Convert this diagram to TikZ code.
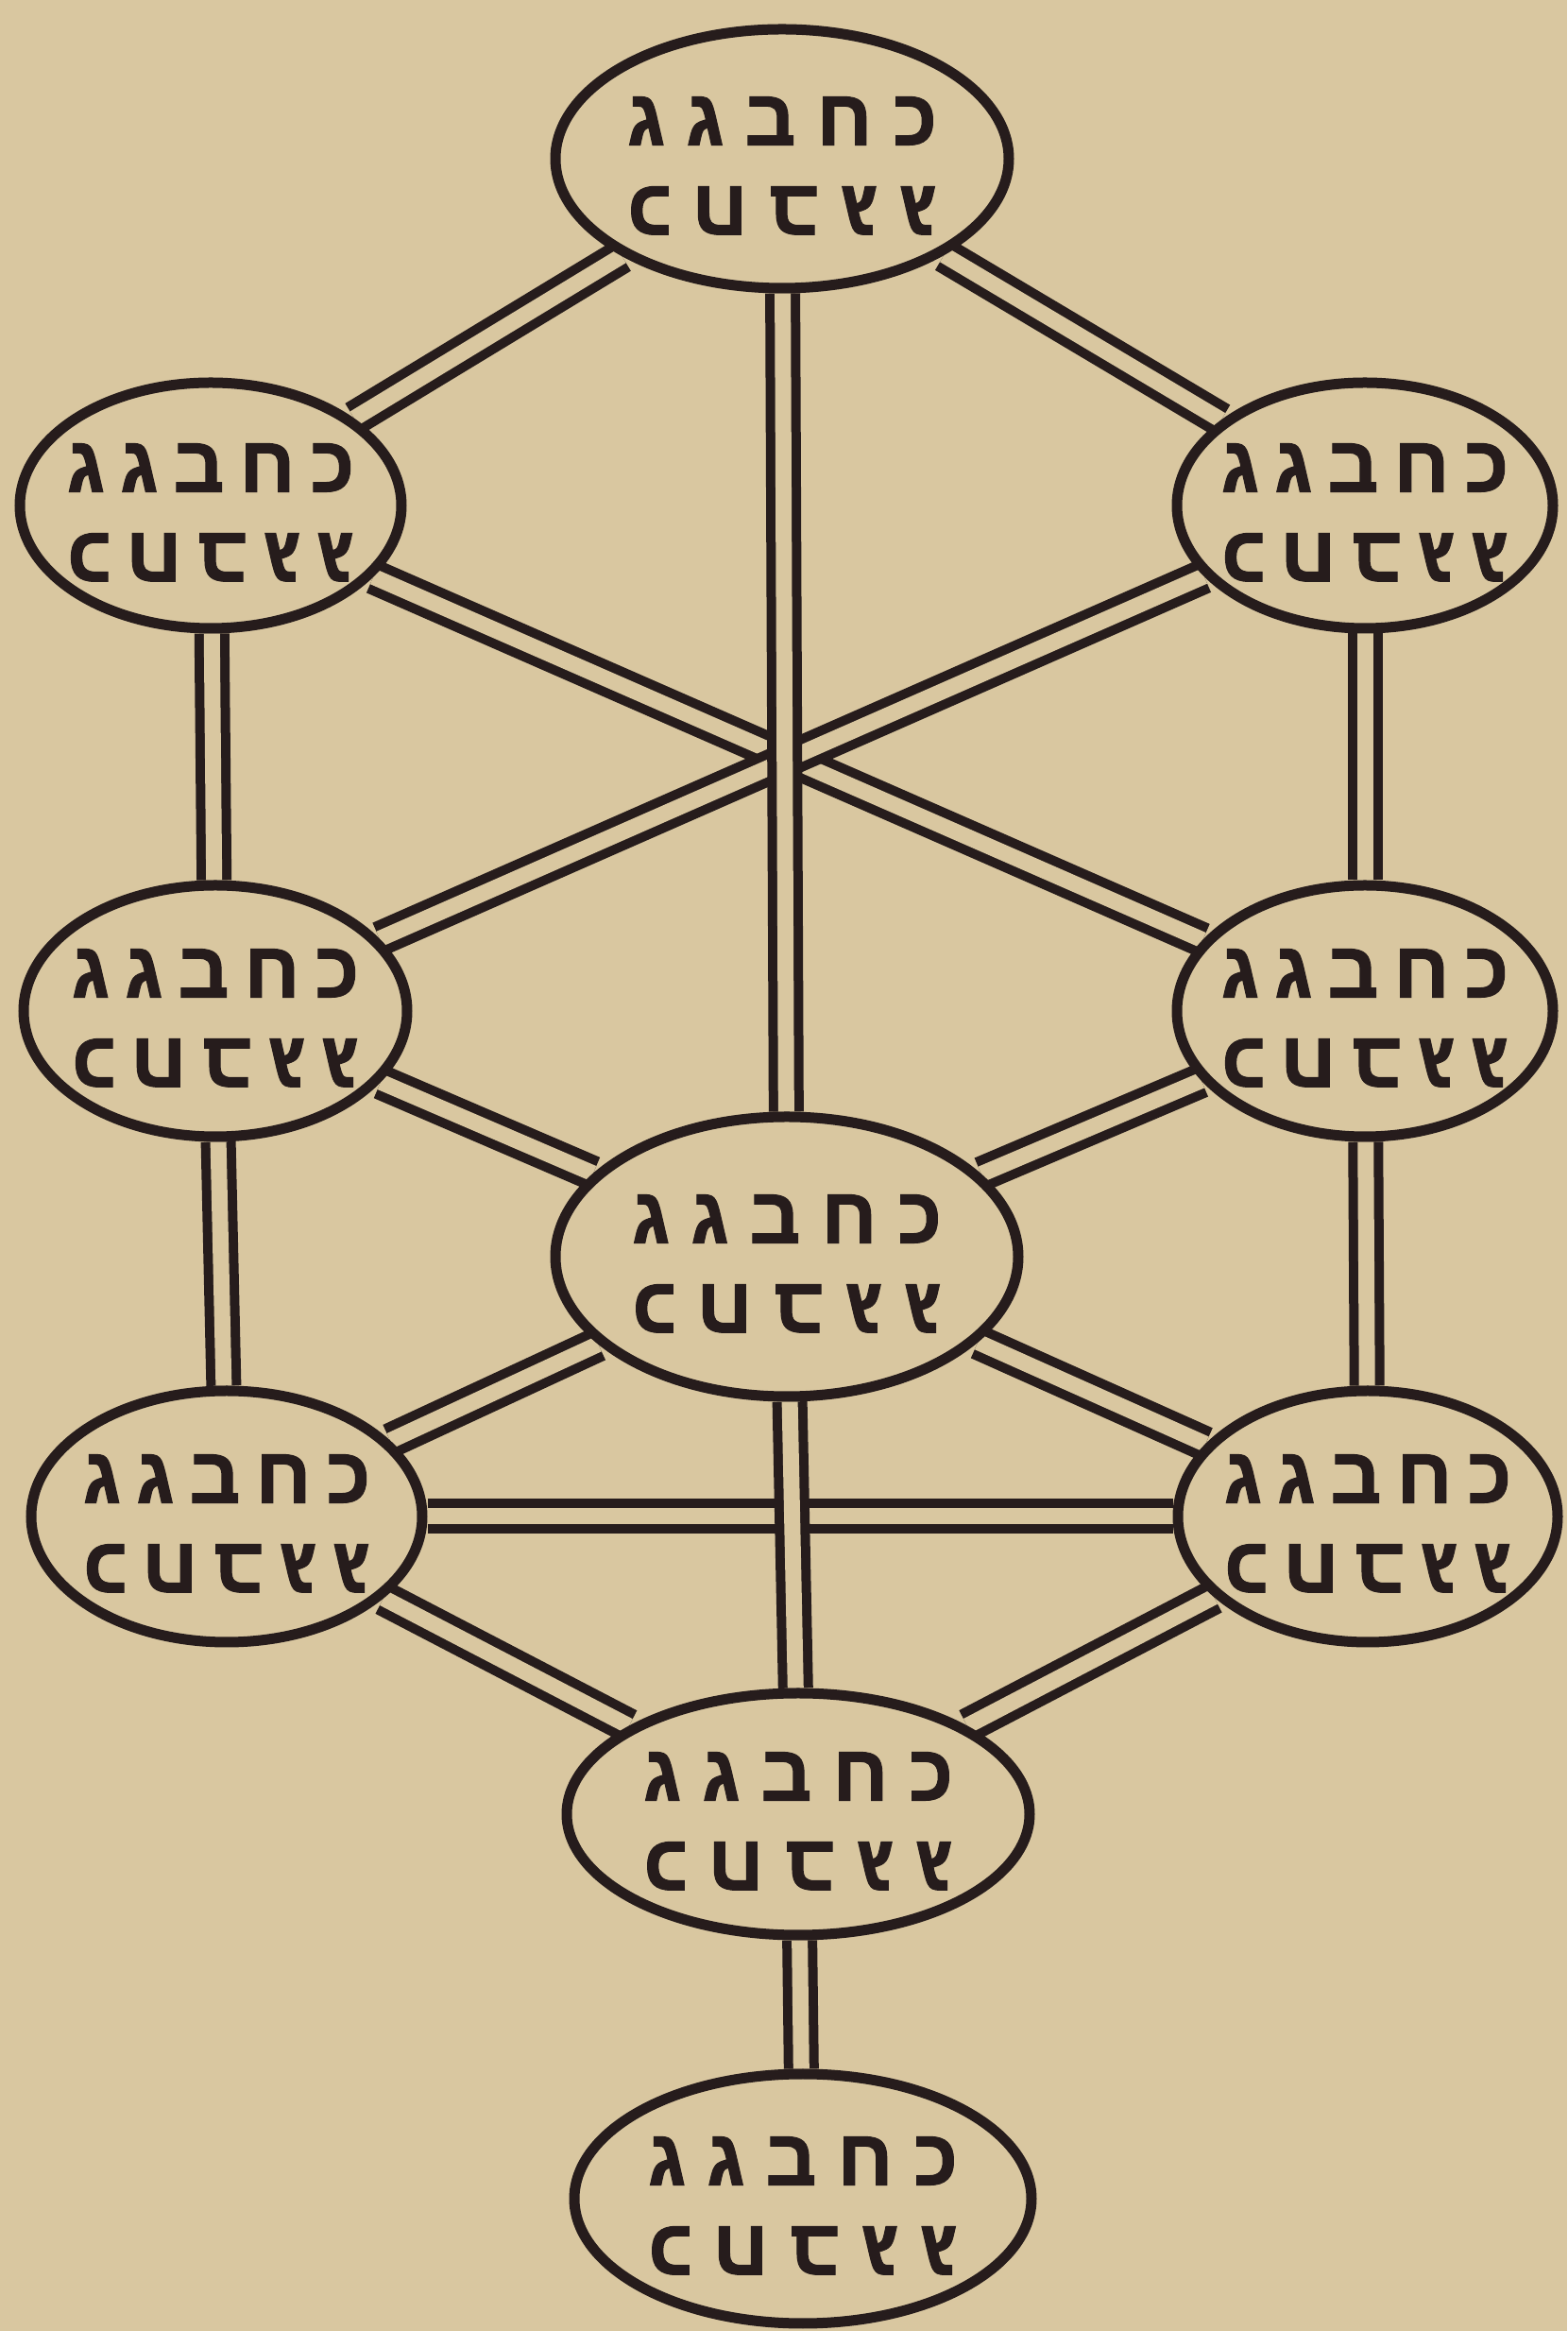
\documentclass[tikz,border=0pt]{standalone}
\usepackage{fontspec}
\usetikzlibrary{shapes.geometric}
\newfontfamily\hebfont[Script=Hebrew,LetterSpace=26,FakeBold=1.2]{Liberation Sans Bold}
\newfontfamily\hebnarrow[Script=Hebrew,LetterSpace=19,FakeBold=1.2]{Liberation Sans Bold}
\TeXXeTstate=1
\definecolor{paper}{RGB}{217,199,160}
\definecolor{ink}{RGB}{38,28,28}
\pgfdeclarelayer{paper}
\pgfdeclarelayer{links}
\pgfsetlayers{paper,links,main}
\newcommand\hebword{\beginR כחבגג\endR}
\newcommand\sefname[1]{{#1\fontsize{24}{27}\selectfont
  \begin{tabular}{@{}c@{}}\hebword\\\rotatebox[origin=c]{180}{\hebword}\end{tabular}}}

\begin{document}
\begin{tikzpicture}[
  sefira/.style={ellipse, draw=ink, fill=paper, line width=0.11cm, inner sep=0pt,
    label={[text=ink, yshift=-0.14cm]center:\sefname{\hebfont}}},
  side/.style={ellipse, draw=ink, fill=paper, line width=0.11cm, inner sep=0pt,
    label={[text=ink, yshift=-0.14cm]center:\sefname{\hebnarrow}}},
  link/.style={draw=ink, line width=0.1cm, double=paper, double distance=0.17cm}]
  \useasboundingbox (0,0) rectangle (16.59,24.67);
  \begin{pgfonlayer}{paper}
    \fill[paper] (0,0) rectangle (16.59,24.67);
  \end{pgfonlayer}

  \node[sefira, minimum width=4.8cm, minimum height=2.74cm] (top) at (8.28,22.99) {};
  \node[side, minimum width=4.04cm, minimum height=2.6cm] (ul) at (2.23,19.32) {};
  \node[side, minimum width=3.98cm, minimum height=2.6cm] (ur) at (14.45,19.32) {};
  \node[side, minimum width=4.06cm, minimum height=2.66cm] (ml) at (2.28,13.97) {};
  \node[side, minimum width=3.98cm, minimum height=2.66cm] (mr) at (14.45,13.97) {};
  \node[sefira, minimum width=4.9cm, minimum height=2.96cm] (mid) at (8.33,11.37) {};
  \node[side, minimum width=4.14cm, minimum height=2.66cm] (ll) at (2.40,8.62) {};
  \node[side, minimum width=4.02cm, minimum height=2.66cm] (lr) at (14.48,8.62) {};
  \node[sefira, minimum width=4.9cm, minimum height=2.56cm] (low) at (8.45,5.47) {};
  \node[sefira, minimum width=4.84cm, minimum height=2.64cm] (foot) at (8.5,1.40) {};

  \begin{pgfonlayer}{links}
    % slanted ones first, the upright ones lie over them
    \foreach \a/\b in {top/ul, top/ur, ul/mr, ur/ml, ml/mid, mr/mid,
                       mid/ll, mid/lr, ll/low, lr/low, ll/lr,
                       ul/ml, ml/ll, ur/mr, mr/lr, top/mid, mid/low, low/foot}
      \draw[link] (\a) -- (\b);
  \end{pgfonlayer}
\end{tikzpicture}
\end{document}
